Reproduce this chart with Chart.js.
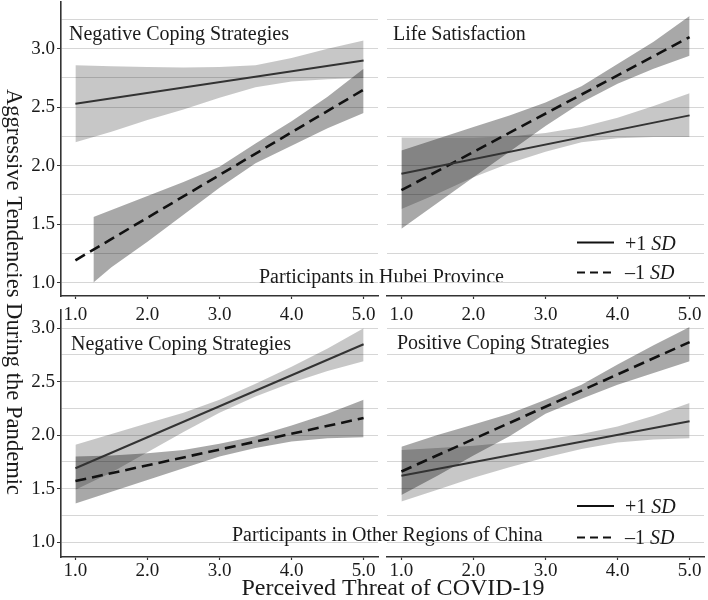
<!DOCTYPE html>
<html>
<head>
<meta charset="utf-8">
<script src="https://cdn.jsdelivr.net/npm/chart.js@4.4.0/dist/chart.umd.min.js"></script>
<style>
  html, body { margin: 0; padding: 0; background: #fff; }
  #wrap { position: relative; width: 708px; height: 600px; }
  #wrap canvas { position: absolute; left: 0; top: 0; }
</style>
</head>
<body>
<div id="wrap">
  <canvas id="tl" width="708" height="600"></canvas>
  <canvas id="tr" width="708" height="600"></canvas>
  <canvas id="bl" width="708" height="600"></canvas>
  <canvas id="br" width="708" height="600"></canvas>
</div>
<script>
// tick values
const xTicks = [1, 2, 3, 4, 5];
const yGrid = [1.0, 1.25, 1.5, 1.75, 2.0, 2.25, 2.5, 2.75, 3.0, 3.25];

// x positions of the lines and the confidence bands
const lineX = [1, 5];
const bandX = [1, 1.5, 2, 2.5, 3, 3.5, 4, 4.5, 5];
const bandXLate = [1.25, 1.5, 2, 2.5, 3, 3.5, 4, 4.5, 5];

// Hubei - Negative Coping Strategies
const hubeiNegHigh = [2.53, 2.90];
const hubeiNegLow = [1.19, 2.65];
const hubeiNegHighUpper = [2.86, 2.85, 2.845, 2.84, 2.845, 2.86, 2.92, 3.00, 3.07];
const hubeiNegHighLower = [2.20, 2.29, 2.39, 2.48, 2.58, 2.67, 2.72, 2.74, 2.75];
const hubeiNegLowUpper = [1.56, 1.62, 1.74, 1.86, 1.99, 2.19, 2.38, 2.59, 2.83];
const hubeiNegLowLower = [1.00, 1.13, 1.35, 1.58, 1.81, 2.02, 2.17, 2.32, 2.45];

// Hubei - Life Satisfaction
const hubeiLifeHigh = [1.93, 2.43];
const hubeiLifeLow = [1.79, 3.10];
const hubeiLifeHighUpper = [2.24, 2.24, 2.24, 2.25, 2.28, 2.33, 2.41, 2.51, 2.62];
const hubeiLifeHighLower = [1.63, 1.76, 1.90, 2.02, 2.12, 2.20, 2.235, 2.245, 2.245];
const hubeiLifeLowUpper = [2.13, 2.23, 2.33, 2.43, 2.54, 2.68, 2.87, 3.06, 3.28];
const hubeiLifeLowLower = [1.46, 1.68, 1.90, 2.12, 2.34, 2.54, 2.70, 2.83, 2.94];

// Other regions - Negative Coping Strategies
const otherNegHigh = [1.69, 2.85];
const otherNegLow = [1.57, 2.16];
const otherNegHighUpper = [1.91, 2.01, 2.11, 2.21, 2.33, 2.48, 2.64, 2.81, 3.00];
const otherNegHighLower = [1.49, 1.65, 1.84, 2.03, 2.21, 2.36, 2.49, 2.60, 2.69];
const otherNegLowUpper = [1.80, 1.81, 1.83, 1.86, 1.92, 1.99, 2.09, 2.20, 2.33];
const otherNegLowLower = [1.36, 1.47, 1.58, 1.69, 1.80, 1.88, 1.94, 1.97, 1.98];

// Other regions - Positive Coping Strategies
const otherPosHigh = [1.62, 2.13];
const otherPosLow = [1.66, 2.87];
const otherPosHighUpper = [1.86, 1.88, 1.90, 1.93, 1.96, 2.01, 2.08, 2.18, 2.30];
const otherPosHighLower = [1.38, 1.49, 1.60, 1.70, 1.79, 1.87, 1.93, 1.96, 1.97];
const otherPosLowUpper = [1.89, 2.00, 2.10, 2.20, 2.33, 2.47, 2.66, 2.84, 3.01];
const otherPosLowLower = [1.44, 1.62, 1.81, 1.99, 2.20, 2.34, 2.47, 2.58, 2.69];

const FONT = '"Liberation Serif", "Times New Roman", serif';
const TXT = '#1a1a1a';
const AXIS = '#333';
const GRID = '#d6d6d6';
const LIGHT = 'rgba(0,0,0,0.22)';
const DARK = 'rgba(0,0,0,0.34)';

const pts = (xs, ys) => xs.map((x, i) => ({ x: x, y: ys[i] }));

function lineDs(ys, dashed) {
  return {
    data: pts(lineX, ys),
    borderColor: dashed ? '#111' : '#333',
    borderWidth: dashed ? 2.6 : 2,
    borderDash: dashed ? [11, 6] : [],
    pointRadius: 0,
    fill: false
  };
}

function bandDs(xs, ys, color, fill) {
  return {
    data: pts(xs, ys),
    borderWidth: 0,
    borderColor: 'rgba(0,0,0,0)',
    backgroundColor: color || 'rgba(0,0,0,0)',
    pointRadius: 0,
    fill: fill
  };
}

// draws panel labels, legends and axis titles
const textPlugin = {
  id: 'panelText',
  afterDraw(chart, args, opts) {
    const ctx = chart.ctx;
    (opts.items || []).forEach(it => {
      ctx.save();
      if (it.line) {
        ctx.strokeStyle = '#111';
        ctx.lineWidth = 2;
        ctx.setLineDash(it.dash || []);
        ctx.beginPath();
        ctx.moveTo(it.x1, it.y);
        ctx.lineTo(it.x2, it.y);
        ctx.stroke();
      } else {
        ctx.fillStyle = TXT;
        ctx.textBaseline = 'alphabetic';
        ctx.translate(it.x, it.y);
        if (it.rotate) ctx.rotate(it.rotate);
        const parts = it.parts || [[it.text, false]];
        const size = it.size || 20;
        let w = 0;
        parts.forEach(p => {
          ctx.font = (p[1] ? 'italic ' : '') + size + 'px ' + FONT;
          w += ctx.measureText(p[0]).width;
        });
        let x = it.center ? -w / 2 : 0;
        parts.forEach(p => {
          ctx.font = (p[1] ? 'italic ' : '') + size + 'px ' + FONT;
          ctx.fillText(p[0], x, 0);
          x += ctx.measureText(p[0]).width;
        });
      }
      ctx.restore();
    });
  }
};

function legendItems(y1, y2, t1, t2) {
  return [
    { line: true, x1: 577, x2: 614, y: y1 },
    { parts: [['+1 ', false], ['SD', true]], x: 625, y: t1 },
    { line: true, x1: 577, x2: 614, y: y2, dash: [8, 5] },
    { parts: [['\u20131 ', false], ['SD', true]], x: 625, y: t2 }
  ];
}

function panel(id, area, yMin, yMax, showY, xPad, s, texts) {
  const yW = showY ? area.left : 0;
  const xH = 30;
  new Chart(document.getElementById(id), {
    type: 'line',
    data: {
      datasets: [
        lineDs(s.high, false),
        lineDs(s.low, true),
        bandDs(s.highX, s.highUpper, LIGHT, '+1'),
        bandDs(s.highX, s.highLower, null, false),
        bandDs(s.lowX, s.lowUpper, DARK, '+1'),
        bandDs(s.lowX, s.lowLower, null, false)
      ]
    },
    options: {
      responsive: false,
      animation: false,
      layout: {
        autoPadding: false,
        padding: { left: area.left - yW, top: area.top, right: 708 - area.right, bottom: 600 - area.bottom - xH }
      },
      plugins: {
        legend: { display: false },
        tooltip: { enabled: false },
        panelText: { items: texts }
      },
      scales: {
        x: {
          type: 'linear',
          min: 0.8,
          max: 5.2,
          afterBuildTicks: sc => { sc.ticks = xTicks.map(v => ({ value: v })); },
          afterFit: sc => { sc.height = xH; sc.paddingLeft = 0; sc.paddingRight = 0; },
          grid: { drawOnChartArea: false, tickLength: 3, tickColor: AXIS, tickWidth: 1.2 },
          border: { display: true, color: AXIS, width: 1.6 },
          ticks: {
            font: { family: FONT, size: 19 },
            color: TXT,
            padding: xPad,
            maxRotation: 0,
            callback: v => v.toFixed(1)
          }
        },
        y: {
          type: 'linear',
          min: yMin,
          max: yMax,
          afterBuildTicks: sc => { sc.ticks = yGrid.filter(v => v >= yMin && v <= yMax).map(v => ({ value: v })); },
          afterFit: sc => { sc.width = yW; sc.paddingTop = 0; sc.paddingBottom = 0; },
          grid: {
            color: GRID,
            lineWidth: 1,
            drawTicks: showY,
            tickLength: 4,
            tickColor: c => (c.tick && c.tick.value % 0.5 === 0) ? AXIS : 'rgba(0,0,0,0)'
          },
          border: { display: showY, color: AXIS, width: 1.6 },
          ticks: {
            display: showY,
            font: { family: FONT, size: 19 },
            color: TXT,
            padding: 2,
            callback: v => (v % 0.5 === 0 ? v.toFixed(1) : '')
          }
        }
      }
    },
    plugins: [textPlugin]
  });
}

panel('tl', { left: 61, top: 2, right: 378, bottom: 296 }, 0.885, 3.40, true, 5, {
  high: hubeiNegHigh, low: hubeiNegLow,
  highX: bandX, highUpper: hubeiNegHighUpper, highLower: hubeiNegHighLower,
  lowX: bandXLate, lowUpper: hubeiNegLowUpper, lowLower: hubeiNegLowLower
}, [
  { text: 'Negative Coping Strategies', x: 69, y: 39.5 },
  { text: 'Participants in Hubei Province', x: 259, y: 283 }
]);

panel('tr', { left: 387, top: 2, right: 704, bottom: 296 }, 0.885, 3.40, false, 5, {
  high: hubeiLifeHigh, low: hubeiLifeLow,
  highX: bandX, highUpper: hubeiLifeHighUpper, highLower: hubeiLifeHighLower,
  lowX: bandX, lowUpper: hubeiLifeLowUpper, lowLower: hubeiLifeLowLower
}, [
  { text: 'Life Satisfaction', x: 393, y: 40 }
].concat(legendItems(242.5, 272.5, 249.5, 279)));

panel('bl', { left: 61, top: 310, right: 378, bottom: 557 }, 0.86, 3.17, true, 0, {
  high: otherNegHigh, low: otherNegLow,
  highX: bandX, highUpper: otherNegHighUpper, highLower: otherNegHighLower,
  lowX: bandX, lowUpper: otherNegLowUpper, lowLower: otherNegLowLower
}, [
  { text: 'Negative Coping Strategies', x: 71, y: 349.5 },
  { text: 'Participants in Other Regions of China', x: 232, y: 541 },
  { text: 'Aggressive Tendencies During the Pandemic', x: 6.5, y: 292, size: 22.6, rotate: Math.PI / 2, center: true },
  { text: 'Perceived Threat of COVID-19', x: 393, y: 595, size: 24, center: true }
]);

panel('br', { left: 387, top: 310, right: 704, bottom: 557 }, 0.86, 3.17, false, 0, {
  high: otherPosHigh, low: otherPosLow,
  highX: bandX, highUpper: otherPosHighUpper, highLower: otherPosHighLower,
  lowX: bandX, lowUpper: otherPosLowUpper, lowLower: otherPosLowLower
}, [
  { text: 'Positive Coping Strategies', x: 397, y: 348.5 }
].concat(legendItems(506, 537.5, 512.5, 543.5)));
</script>
</body>
</html>
